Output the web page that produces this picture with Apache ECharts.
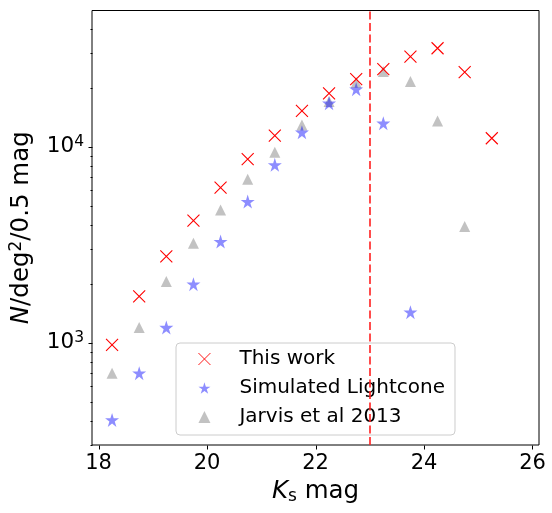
<!DOCTYPE html>
<html>
<head>
<meta charset="utf-8">
<script src="https://cdn.jsdelivr.net/npm/echarts@6/dist/echarts.min.js"></script>
<style>
  html, body { margin: 0; padding: 0; background: #fff; }
  #chart { width: 552px; height: 513px; }
</style>
</head>
<body>
<div id="chart"></div>
<script>
// bin centres in Ks mag (0.5 mag bins)
const mags = [18.25, 18.75, 19.25, 19.75, 20.25, 20.75, 21.25, 21.75, 22.25, 22.75, 23.25, 23.75, 24.25, 24.75, 25.25]

// number counts, N/deg^2/0.5 mag
const thisWork = [973, 1720, 2750, 4190, 6180, 8630, 11380, 15200, 18700, 22080, 24840, 28790, 31770, 23990, 11030]
const lightcone = [403, 698, 1193, 1986, 3276, 5240, 8070, 11840, 16640, 19640, 13160, 1429]
const jarvis = [698, 1193, 2048, 3215, 4754, 6820, 9360, 12900, 16980, 21240, 24150, 21460, 13520, 3910, 292]

// completeness cut
const cutMag = 23

// axis ticks
const xTicks = [18, 20, 22, 24, 26]
const yMajorTicks = [1000, 10000]
const yMinorTicks = [300, 400, 500, 600, 700, 800, 900, 2000, 3000, 4000, 5000, 6000, 7000, 8000, 9000, 20000, 30000, 40000]

const xMin = 17.88
const xMax = 26.12
const yMin = 300
const yMax = 49500

const FONT = 'DejaVu Sans'
const STAR = 'path://M50,0 L61.2,34.5 L97.6,34.5 L68.2,55.9 L79.4,90.5 L50,69.1 L20.6,90.5 L31.8,55.9 L2.4,34.5 L38.8,34.5 Z'
const CROSS = 'path://M0,0 L10,10 M10,0 L0,10'

const toPairs = (vals) => vals.map((v, i) => [mags[i], v])

const chart = echarts.init(document.getElementById('chart'))

const option = {
  animation: false,
  textStyle: { fontFamily: FONT },
  grid: {
    left: 92,
    right: 13,
    top: 10.5,
    bottom: 68,
    show: true,
    borderColor: '#000',
    borderWidth: 1,
    backgroundColor: 'transparent'
  },
  legend: {
    orient: 'vertical',
    left: 176,
    top: 343,
    padding: [4, 10, 6, 22],
    itemGap: 5,
    itemWidth: 12,
    itemHeight: 12,
    backgroundColor: 'rgba(255,255,255,0.8)',
    borderColor: '#cccccc',
    borderWidth: 1,
    borderRadius: 4,
    textStyle: {
      fontFamily: FONT,
      fontSize: 20,
      lineHeight: 24,
      color: '#000',
      padding: [0, 0, 0, 24]
    },
    data: [
      { name: 'This work', itemStyle: { borderWidth: 0.9 } },
      { name: 'Simulated Lightcone' },
      { name: 'Jarvis et al 2013' }
    ]
  },
  xAxis: {
    type: 'value',
    min: xMin,
    max: xMax,
    splitLine: { show: false },
    axisTick: { show: false },
    axisLine: { show: false },
    axisLabel: {
      fontFamily: FONT,
      fontSize: 21,
      color: '#000',
      margin: 8,
      showMinLabel: false,
      showMaxLabel: false,
      formatter: (v) => (xTicks.includes(v) ? String(v) : '')
    },
    name: '{i|K}{sub|s}{t| mag}',
    nameLocation: 'middle',
    nameGap: 31,
    nameTextStyle: {
      rich: {
        i: { fontFamily: FONT, fontSize: 24.5, fontStyle: 'italic', color: '#000', lineHeight: 28 },
        sub: { fontFamily: FONT, fontSize: 17, color: '#000', lineHeight: 17, verticalAlign: 'bottom' },
        t: { fontFamily: FONT, fontSize: 24.5, color: '#000', lineHeight: 28 }
      }
    }
  },
  yAxis: {
    type: 'log',
    logBase: 10,
    min: yMin,
    max: yMax,
    splitLine: { show: false },
    axisTick: { show: false },
    axisLine: { show: false },
    axisLabel: {
      margin: 8,
      showMinLabel: false,
      showMaxLabel: false,
      formatter: (v) => {
        const e = Math.log10(v)
        if (Math.abs(e - Math.round(e)) > 1e-6) return ''
        return '{b|10}{s|' + Math.round(e) + '}'
      },
      rich: {
        b: { fontFamily: FONT, fontSize: 21.5, color: '#000', lineHeight: 25 },
        s: { fontFamily: FONT, fontSize: 15.5, color: '#000', lineHeight: 15, verticalAlign: 'top' }
      }
    },
    name: '{i|N}{t|/deg}{sup|2}{t|/0.5 mag}',
    nameLocation: 'middle',
    nameGap: 56,
    nameRotate: 90,
    nameTextStyle: {
      rich: {
        i: { fontFamily: FONT, fontSize: 24.5, fontStyle: 'italic', color: '#000', lineHeight: 28 },
        sup: { fontFamily: FONT, fontSize: 17, color: '#000', lineHeight: 17, verticalAlign: 'top' },
        t: { fontFamily: FONT, fontSize: 24.5, color: '#000', lineHeight: 28 }
      }
    }
  },
  series: [
    {
      name: 'This work',
      type: 'scatter',
      symbol: CROSS,
      symbolSize: 12,
      itemStyle: { color: '#ff0000', borderColor: '#ff0000', borderWidth: 1.1, opacity: 1 },
      data: toPairs(thisWork),
      z: 3,
      markLine: {
        silent: true,
        symbol: 'none',
        label: { show: false },
        lineStyle: { color: '#ff2020', type: [8, 3.5], width: 1.6, opacity: 1 },
        data: [{ xAxis: cutMag }]
      }
    },
    {
      name: 'Simulated Lightcone',
      type: 'scatter',
      symbol: STAR,
      symbolSize: 14,
      itemStyle: { color: 'rgba(0,0,255,0.56)' },
      data: mags.slice(0, lightcone.length).map((m, i) => [m, lightcone[i]]),
      z: 2
    },
    {
      name: 'Jarvis et al 2013',
      type: 'scatter',
      symbol: 'triangle',
      symbolSize: 11,
      itemStyle: { color: 'rgba(128,128,128,0.6)' },
      data: toPairs(jarvis),
      z: 1
    }
  ]
}

chart.setOption(option)

// tick marks drawn by hand so the log axis gets matplotlib-style minor ticks
const drawTicks = () => {
  const left = Math.round(chart.convertToPixel({ xAxisIndex: 0 }, xMin)) + 0.5
  const bottom = Math.round(chart.convertToPixel({ yAxisIndex: 0 }, yMin)) + 0.5
  const els = []
  const tick = (x1, y1, x2, y2) => els.push({
    type: 'line',
    silent: true,
    shape: { x1, y1, x2, y2 },
    style: { stroke: '#000', lineWidth: 1 }
  })
  yMajorTicks.forEach((v) => {
    const y = Math.round(chart.convertToPixel({ yAxisIndex: 0 }, v)) + 0.5
    tick(left - 4, y, left, y)
  })
  yMinorTicks.forEach((v) => {
    const y = Math.round(chart.convertToPixel({ yAxisIndex: 0 }, v)) + 0.5
    tick(left - 2, y, left, y)
  })
  xTicks.forEach((v) => {
    const x = Math.round(chart.convertToPixel({ xAxisIndex: 0 }, v)) + 0.5
    tick(x, bottom, x, bottom + 4)
  })
  chart.setOption({ graphic: els })
}
drawTicks()
</script>
</body>
</html>
